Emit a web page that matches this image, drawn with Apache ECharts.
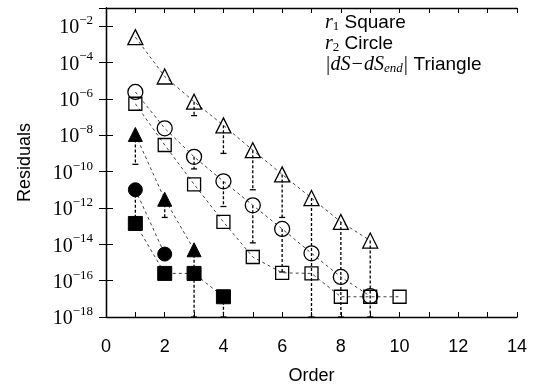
<!DOCTYPE html>
<html>
<head>
<meta charset="utf-8">
<script src="https://cdn.jsdelivr.net/npm/echarts@6/dist/echarts.min.js"></script>
<style>html,body{margin:0;padding:0;background:#fff}#chart{width:542px;height:390px}</style>
</head>
<body>
<div id="chart"></div>
<script>
// residuals by order
var sqOrder = [1, 2, 3, 4, 5, 6, 7, 8, 9, 10];
var sqRes = [5.4e-7, 2.9e-9, 2e-11, 1.7e-13, 2e-15, 2.7e-16, 2.5e-16, 1.3e-17, 1.3e-17, 1.3e-17];

var circOrder = [1, 2, 3, 4, 5, 6, 7, 8, 9];
var circRes = [2.4e-6, 2.4e-8, 6.5e-10, 2.9e-11, 1.4e-12, 7e-14, 3.2e-15, 1.6e-16, 1.4e-17];
var circLow = [null, null, 1.4e-10, 1.2e-12, 1.2e-14, 3e-16, null, null, null];

var triOrder = [1, 2, 3, 4, 5, 6, 7, 8, 9];
var triRes = [2.5e-3, 1.7e-5, 7e-7, 3.5e-8, 1.5e-9, 7e-11, 3.5e-12, 1.7e-13, 1.6e-14];
var triLow = [null, null, 1.2e-7, 1e-9, 1e-11, 3e-13, 1e-18, 1e-18, 1e-18];

var fsqOrder = [1, 2, 3, 4];
var fsqRes = [1.4e-13, 2.5e-16, 2.5e-16, 1.3e-17];
var fsqLow = [null, null, null, 1e-18];

var fcircOrder = [1, 2];
var fcircRes = [1e-11, 2.9e-15];
var fcircLow = [1.4e-13, null];

var ftriOrder = [1, 2, 3];
var ftriRes = [1.1e-8, 3e-12, 5e-15];
var ftriLow = [2.5e-10, 3e-13, 1e-18];

var yTicks = [-18, -16, -14, -12, -10, -8, -6, -4, -2];
var xTicks = [0, 2, 4, 6, 8, 10, 12, 14];

var myChart = echarts.init(document.getElementById('chart'));

function pts(xs, ys) {
    return xs.map(function (x, i) { return [x, Math.log10(ys[i])]; });
}
function bars(xs, ys, lows) {
    var out = [];
    xs.forEach(function (x, i) {
        if (lows[i] != null) out.push([x, Math.log10(ys[i]), Math.log10(lows[i])]);
    });
    return out;
}

var lineStyle = {color: '#444', width: 1, type: [3, 3]};

function lineSeries(name, xs, ys, symbol, size, filled) {
    return {
        name: name,
        type: 'line',
        data: pts(xs, ys),
        symbol: symbol,
        symbolSize: size,
        showAllSymbol: true,
        lineStyle: lineStyle,
        itemStyle: filled ? {color: '#000', borderColor: '#000', borderWidth: 1}
                          : {color: 'rgba(255,255,255,0)', borderColor: '#000', borderWidth: 1.3},
        z: 3
    };
}

function errSeries(data) {
    return {
        type: 'custom',
        data: data,
        z: 2,
        renderItem: function (params, api) {
            var a = api.coord([api.value(0), api.value(1)]);
            var b = api.coord([api.value(0), api.value(2)]);
            return {
                type: 'group',
                children: [
                    {type: 'line', shape: {x1: a[0], y1: a[1], x2: b[0], y2: b[1]},
                     style: {stroke: '#000', lineWidth: 1.3, lineDash: [3, 2]}},
                    {type: 'line', shape: {x1: b[0] - 3, y1: b[1], x2: b[0] + 3, y2: b[1]},
                     style: {stroke: '#000', lineWidth: 1.3}}
                ]
            };
        }
    };
}

var option = {
    animation: false,
    grid: {left: 106, right: 25, top: 8, bottom: 67},
    xAxis: [{
        type: 'value', min: 0, max: 14, interval: 1,
        name: 'Order', nameLocation: 'middle', nameGap: 50,
        nameTextStyle: {fontFamily: 'Liberation Sans', fontSize: 18, color: '#000'},
        axisLine: {lineStyle: {color: '#000', width: 1.3}},
        axisTick: {inside: true, length: 5, lineStyle: {color: '#000'}},
        axisLabel: {
            margin: 21, fontFamily: 'Liberation Sans', fontSize: 18, color: '#000',
            formatter: function (v) { return xTicks.indexOf(v) >= 0 ? String(v) : ''; }
        },
        splitLine: {show: false}
    }, {
        type: 'value', min: 0, max: 14, interval: 1, position: 'top',
        axisLine: {lineStyle: {color: '#000', width: 1.3}},
        axisTick: {inside: true, length: 5, lineStyle: {color: '#000'}},
        axisLabel: {show: false}, splitLine: {show: false}
    }],
    yAxis: [{
        type: 'value', min: -18, max: -1, interval: 2,
        name: 'Residuals', nameLocation: 'middle', nameGap: 72, nameRotate: 90,
        nameTextStyle: {fontFamily: 'Liberation Sans', fontSize: 18, color: '#000'},
        axisLine: {lineStyle: {color: '#000', width: 1.3}},
        axisTick: {inside: true, length: 7, lineStyle: {color: '#000'}},
        axisLabel: {
            margin: 13,
            formatter: function (v) {
                return yTicks.indexOf(v) >= 0 ? '{b|10}{s|' + String(v).replace('-', '\u2212') + '}' : '';
            },
            rich: {
                b: {fontFamily: 'Liberation Serif', fontSize: 20, color: '#000', lineHeight: 24, verticalAlign: 'bottom'},
                s: {fontFamily: 'Liberation Serif', fontSize: 13, color: '#000', lineHeight: 24, verticalAlign: 'top'}
            }
        },
        splitLine: {show: false}
    }, {
        type: 'value', min: -18, max: -1, interval: 2, position: 'right',
        axisLine: {lineStyle: {color: '#000', width: 1.3}},
        axisTick: {inside: true, length: 7, lineStyle: {color: '#000'}},
        axisLabel: {show: false}, splitLine: {show: false}
    }],
    graphic: [{
        type: 'text', left: 325, top: 13,
        style: {
            text: '{m|r}{sub|1}{t| Square}\n{m|r}{sub|2}{t| Circle}\n{m||dS\u2212dS}{msub|end}{m||}{t| Triangle}',
            rich: {
                m: {fontFamily: 'Liberation Serif', fontStyle: 'italic', fontSize: 20, lineHeight: 21, fill: '#000'},
                sub: {fontFamily: 'Liberation Serif', fontSize: 13, lineHeight: 21, verticalAlign: 'bottom', fill: '#000'},
                msub: {fontFamily: 'Liberation Serif', fontStyle: 'italic', fontSize: 13, lineHeight: 21, verticalAlign: 'bottom', fill: '#000'},
                t: {fontFamily: 'Liberation Sans', fontSize: 19, lineHeight: 21, fill: '#000'}
            }
        }
    }],
    series: [
        errSeries(bars(triOrder, triRes, triLow)),
        errSeries(bars(circOrder, circRes, circLow)),
        errSeries(bars(fsqOrder, fsqRes, fsqLow)),
        errSeries(bars(fcircOrder, fcircRes, fcircLow)),
        errSeries(bars(ftriOrder, ftriRes, ftriLow)),
        lineSeries('r1', sqOrder, sqRes, 'rect', 13, false),
        lineSeries('r2', circOrder, circRes, 'circle', 15, false),
        lineSeries('dS', triOrder, triRes, 'triangle', 15, false),
        lineSeries('r1f', fsqOrder, fsqRes, 'rect', 14, true),
        lineSeries('r2f', fcircOrder, fcircRes, 'circle', 14, true),
        lineSeries('dSf', ftriOrder, ftriRes, 'triangle', 14, true)
    ]
};

myChart.setOption(option);
</script>
</body>
</html>
